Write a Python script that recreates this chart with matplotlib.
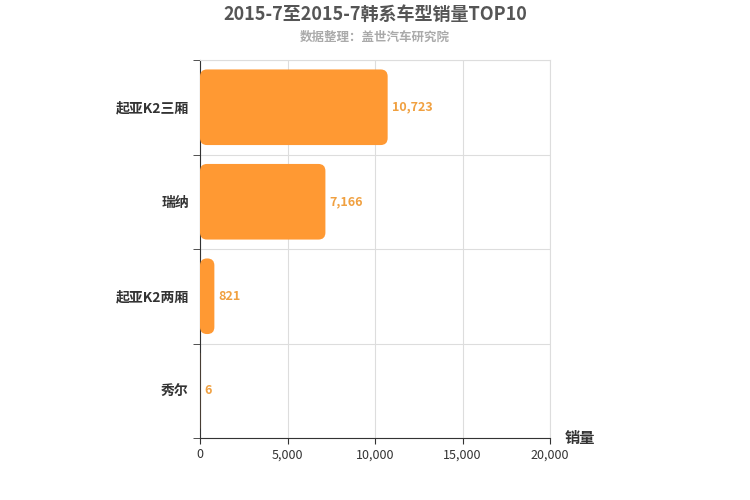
import matplotlib.pyplot as plt
from matplotlib.patches import FancyBboxPatch

plt.rcParams['font.family'] = ['Noto Sans CJK SC', 'DejaVu Sans']

models = ['起亚K2三厢', '瑞纳', '起亚K2两厢', '秀尔']
sales = [10723, 7166, 821, 6]

fig = plt.figure(figsize=(7.5, 5), dpi=100)
ax = fig.add_axes([200 / 750, 62 / 500, 350 / 750, 378 / 500])
ax.set_xlim(0, 20000)
ax.set_ylim(-0.5, len(models) - 0.5)
ax.invert_yaxis()

x_per_px = 20000 / 350
y_per_px = len(models) / 378
r = 7 * x_per_px
for i, v in enumerate(sales):
    h = 0.8
    if v > 0:
        p = FancyBboxPatch((0, i - h / 2), v, h,
                           boxstyle=f"round,pad=0,rounding_size={min(r, v / 2)}",
                           mutation_aspect=y_per_px / x_per_px,
                           fc='#ff9933', ec='none', zorder=3)
        ax.add_patch(p)
    ax.text(v + 250, i, f'{v:,}', va='center', ha='left',
            color='#f0a040', fontsize=9, fontweight='bold')

ax.set_xticks([0, 5000, 10000, 15000, 20000])
ax.set_xticklabels(['0', '5,000', '10,000', '15,000', '20,000'], fontsize=9, color='#333333')
ax.set_yticks(range(len(models)))
ax.set_yticklabels(models, fontsize=10, fontweight='bold', color='#333333')
ax.tick_params(axis='y', length=0, pad=8)
ax.tick_params(axis='x', length=4, color='#333333')
ax.set_yticks([-0.5, 0.5, 1.5, 2.5, 3.5], minor=True)
ax.tick_params(axis='y', which='minor', length=5, color='#333333')
ax.grid(axis='x', color='#dddddd', lw=0.8, zorder=0)
ax.grid(axis='y', which='minor', color='#dddddd', lw=0.8, zorder=0)
for s in ['top', 'right']:
    ax.spines[s].set_color('#dddddd')
for s in ['left', 'bottom']:
    ax.spines[s].set_color('#333333')

fig.text(0.5, 0.972, '2015-7至2015-7韩系车型销量TOP10', ha='center', va='center',
         fontsize=13, fontweight='bold', color='#555555')
fig.text(0.5, 0.925, '数据整理：盖世汽车研究院', ha='center', va='center',
         fontsize=9, fontweight='bold', color='#aaaaaa')
fig.text(580 / 750, 1 - 438 / 500, '销量', ha='center', va='center',
         fontsize=11, fontweight='bold', color='#333333')

fig.savefig('out.png')
